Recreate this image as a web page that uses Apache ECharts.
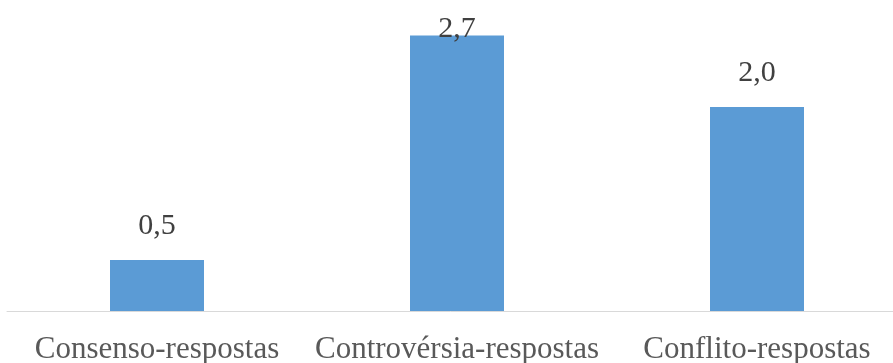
<!DOCTYPE html>
<html>
<head>
<meta charset="utf-8">
<script src="https://cdn.jsdelivr.net/npm/echarts@6/dist/echarts.min.js"></script>
<style>
  html, body { margin: 0; padding: 0; background: #ffffff; }
  #chart { width: 893px; height: 363px; }
</style>
</head>
<body>
<div id="chart"></div>
<script>
// Categories and their mean values
const categories = ['Consenso-respostas', 'Controvérsia-respostas', 'Conflito-respostas'];
const values = [0.5, 2.7, 2.0];

const fmt = v => v.toFixed(1).replace('.', ',');

const chart = echarts.init(document.getElementById('chart'), null, { renderer: 'canvas' });

const seriesData = values.map((v, i) => {
  const item = { value: v };
  // the tallest bar's label sits lower so it stays inside the plot
  if (v === Math.max(...values)) {
    item.label = { distance: -9 };
  }
  return item;
});

chart.setOption({
  animation: false,
  backgroundColor: '#ffffff',
  grid: {
    left: 7, width: 900, top: 5, bottom: 52,
    containLabel: false,
    outerBoundsMode: 'none'
  },
  xAxis: {
    type: 'category',
    data: categories,
    axisLine: { show: true, lineStyle: { color: '#d9d9d9', width: 1 } },
    axisTick: { show: false },
    axisLabel: {
      interval: 0,
      hideOverlap: false,
      color: '#595959',
      fontFamily: 'Liberation Serif',
      fontSize: 31,
      margin: 23
    }
  },
  yAxis: {
    type: 'value',
    min: 0,
    max: 3,
    show: false,
    splitLine: { show: false }
  },
  series: [{
    type: 'bar',
    data: seriesData,
    barWidth: 94,
    itemStyle: { color: '#5b9bd5' },
    label: {
      show: true,
      position: 'top',
      distance: 19,
      color: '#404040',
      fontFamily: 'Liberation Serif',
      fontSize: 30,
      formatter: p => fmt(p.value)
    }
  }]
});
</script>
</body>
</html>
